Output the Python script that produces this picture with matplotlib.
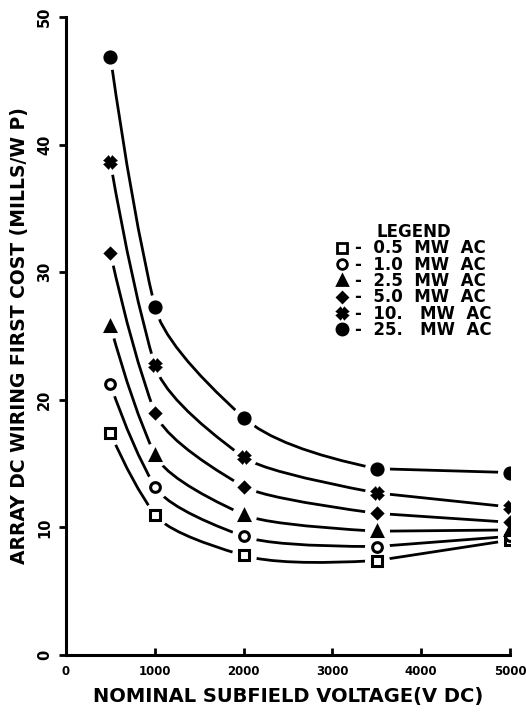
import numpy as np
import matplotlib.pyplot as plt
from matplotlib.path import Path
from matplotlib.patches import PathPatch
from matplotlib.lines import Line2D

# donnees
voltage = [500, 1000, 2000, 3500, 5000]
cost_05 = [17.4, 11.0, 7.8, 7.4, 9.0]
cost_10 = [21.2, 13.2, 9.3, 8.5, 9.3]
cost_25 = [25.8, 15.7, 11.0, 9.7, 9.8]
cost_50 = [31.5, 19.0, 13.2, 11.1, 10.4]
cost_100 = [38.6, 22.7, 15.5, 12.7, 11.6]
cost_250 = [46.9, 27.3, 18.6, 14.6, 14.3]

series = [cost_05, cost_10, cost_25, cost_50, cost_100, cost_250]
labels = ['0.5  MW  AC', '1.0  MW  AC', '2.5  MW  AC', '5.0  MW  AC', '10.   MW  AC', '25.   MW  AC']
markers = ['s', 'o', '^', 'D', 'X', 'o']
filled = [False, False, True, True, True, True]
msizes = [7, 7, 7, 5, 7, 8]

xticks = [0, 1000, 2000, 3000, 4000, 5000]
yticks = [0, 10, 20, 30, 40, 50]

FONT = 'DejaVu Sans'


def smooth_path(x, y):
    # courbe lisse par segments de bezier quadratiques (tangentes aux points)
    x = np.asarray(x, float)
    y = np.asarray(y, float)
    h = np.diff(x)
    d = np.diff(y) / h
    n = len(x)
    m = np.zeros(n)
    for k in range(1, n - 1):
        m[k] = (h[k] * d[k - 1] + h[k - 1] * d[k]) / (h[k - 1] + h[k])
    m[0] = ((2 * h[0] + h[1]) * d[0] - h[0] * d[1]) / (h[0] + h[1])
    m[-1] = d[-1]
    verts = [(x[0], y[0])]
    codes = [Path.MOVETO]
    for k in range(n - 1):
        if abs(m[k] - m[k + 1]) < 1e-12:
            verts.append((x[k + 1], y[k + 1]))
            codes.append(Path.LINETO)
            continue
        xc = (y[k + 1] - y[k] + m[k] * x[k] - m[k + 1] * x[k + 1]) / (m[k] - m[k + 1])
        xc = min(max(xc, x[k]), x[k + 1])
        yc = y[k] + m[k] * (xc - x[k])
        verts += [(xc, yc), (x[k + 1], y[k + 1])]
        codes += [Path.CURVE3, Path.CURVE3]
    return Path(verts, codes)


fig = plt.figure(figsize=(5.26, 7.16), dpi=100)
ax = fig.add_axes([0.1255, 0.0852, 0.8441, 0.8911])

for vals, mk, fl, ms in zip(series, markers, filled, msizes):
    ax.add_patch(PathPatch(smooth_path(voltage, vals), fill=False,
                           lw=2.0, color='black', zorder=2, capstyle='round'))
    # halo blanc pour couper la ligne autour du marqueur
    ax.plot(voltage, vals, ls='none', marker='o', ms=17, mfc='white',
            mec='white', zorder=3)
    ax.plot(voltage, vals, ls='none', marker=mk, ms=ms,
            mfc='black' if fl else 'white', mec='black', mew=2.2, zorder=4)

ax.set_xlim(0, 5000)
ax.set_ylim(0, 50)
ax.spines['top'].set_visible(False)
ax.spines['right'].set_visible(False)
for s in ['left', 'bottom']:
    ax.spines[s].set_linewidth(2.2)

ax.set_xticks(xticks)
ax.set_xticklabels([str(t) for t in xticks], fontsize=8.5, fontweight='bold',
                   family=FONT)
ax.set_yticks(yticks)
ax.set_yticklabels([str(t) for t in yticks], fontsize=10.5, fontweight='bold',
                   family=FONT, rotation=90, va='center')
ax.tick_params(axis='x', direction='in', length=5, width=2, pad=7)
ax.tick_params(axis='y', direction='out', length=5, width=2, pad=5)

ax.set_xlabel('NOMINAL SUBFIELD VOLTAGE(V DC)', fontsize=14,
              fontweight='bold', family=FONT, labelpad=7)
ax.set_ylabel('ARRAY DC WIRING FIRST COST (MILLS/W P)', fontsize=13.5,
              fontweight='bold', family=FONT, labelpad=6)

handles = [Line2D([], [], ls='none', marker=mk, ms=ms,
                  mfc='black' if fl else 'white', mec='black', mew=2)
           for mk, fl, ms in zip(markers, filled, msizes)]
leg = ax.legend(handles, ['-  ' + lb for lb in labels], title='LEGEND',
                loc='upper left', bbox_to_anchor=(0.588, 0.69), frameon=False,
                handlelength=0.8, handletextpad=0.4, labelspacing=-0.1,
                borderpad=0, prop={'family': FONT, 'weight': 'bold', 'size': 12})
leg.get_title().set_fontproperties({'family': FONT, 'weight': 'bold', 'size': 12})

fig.savefig('out.png', dpi=100)
